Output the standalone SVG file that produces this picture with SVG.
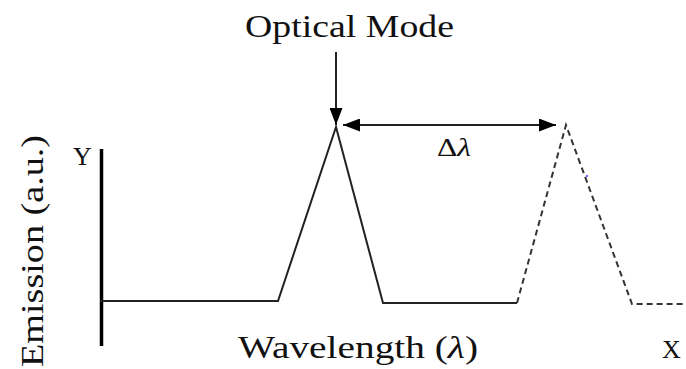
<svg xmlns="http://www.w3.org/2000/svg" width="686" height="369" viewBox="0 0 686 369">
<style>
text{font-family:"Liberation Serif","Times New Roman",serif;fill:#111}
.ln{fill:none;stroke:#222;stroke-width:2}
.ds{fill:none;stroke:#333;stroke-width:2;stroke-dasharray:6,4}
</style>
<defs>
<marker id="ah" viewBox="0 0 17 13" refX="17" refY="6.5" markerWidth="17" markerHeight="13" markerUnits="userSpaceOnUse" orient="auto-start-reverse">
<path d="M0,0L17,6.5L0,13z" fill="#000"/>
</marker>
</defs>
<rect width="686" height="369" fill="#fff"/>
<g id="axes">
<line x1="101.5" y1="149" x2="101.5" y2="346" stroke="#000" stroke-width="3.5"/>
<text x="73" y="165" font-size="26">Y</text>
<text x="662" y="358" font-size="26">X</text>
<text transform="translate(43,367) rotate(-90)" font-size="32" textLength="232" lengthAdjust="spacingAndGlyphs">Emission (a.u.)</text>
<text x="238" y="358" font-size="32" textLength="240" lengthAdjust="spacingAndGlyphs">Wavelength (<tspan font-style="italic">λ</tspan>)</text>
</g>
<g id="mode1">
<polyline class="ln" points="100,301 278,301 336,127 383,303 517,303"/>
<text x="245" y="37" font-size="32" textLength="209" lengthAdjust="spacingAndGlyphs">Optical Mode</text>
</g>
<g id="mode2">
<polyline class="ds" points="517,303 566,125 632,304 686,304"/>
<circle cx="587" cy="176" r="1" fill="#3040ff"/>
</g>
<g id="connectors">
<line x1="336" y1="52" x2="336" y2="125" stroke="#222" stroke-width="2" marker-end="url(#ah)"/>
<line x1="343" y1="125" x2="556" y2="125" stroke="#222" stroke-width="2" marker-start="url(#ah)" marker-end="url(#ah)"/>
<text x="437" y="156" font-size="25" textLength="34" lengthAdjust="spacingAndGlyphs">Δ<tspan font-style="italic">λ</tspan></text>
</g>
</svg>
